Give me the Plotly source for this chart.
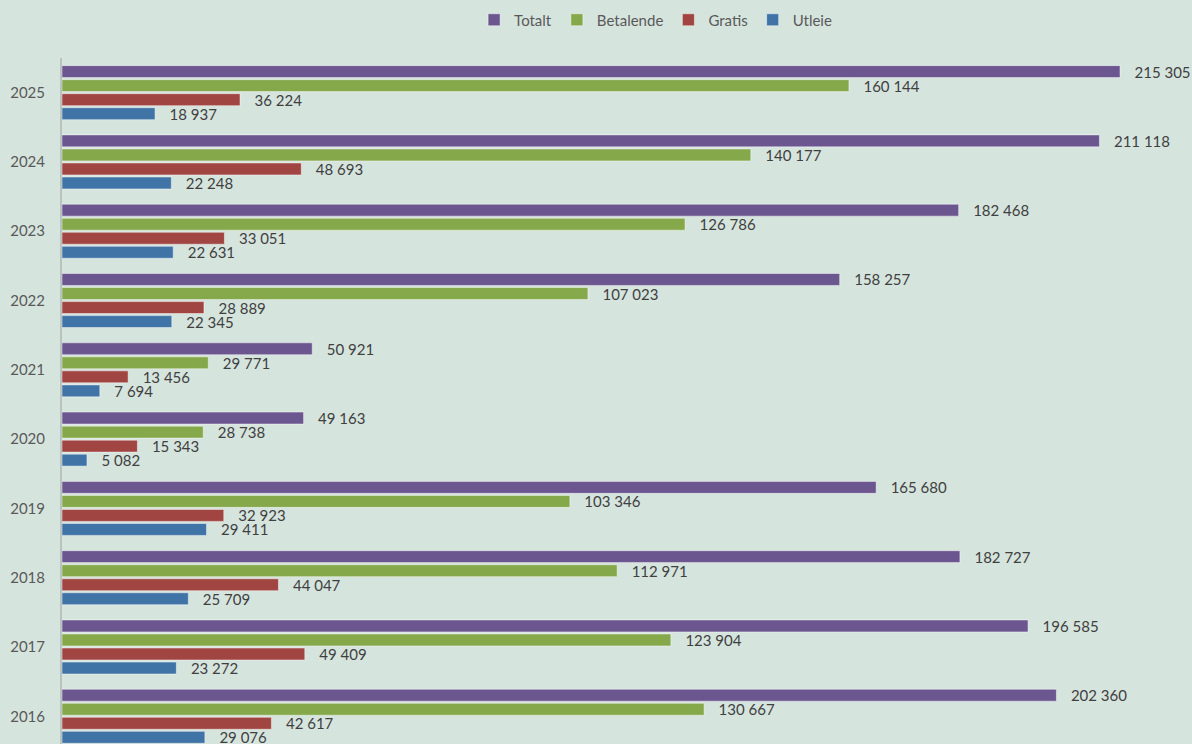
import plotly.graph_objects as go

years = ["2016", "2017", "2018", "2019", "2020", "2021", "2022", "2023", "2024", "2025"]
totalt = [202360, 196585, 182727, 165680, 49163, 50921, 158257, 182468, 211118, 215305]
betalende = [130667, 123904, 112971, 103346, 28738, 29771, 107023, 126786, 140177, 160144]
gratis = [42617, 49409, 44047, 32923, 15343, 13456, 28889, 33051, 48693, 36224]
utleie = [29076, 23272, 25709, 29411, 5082, 7694, 22345, 22631, 22248, 18937]

series = [
    ("Utleie", utleie, "#4074A6"),
    ("Gratis", gratis, "#A04542"),
    ("Betalende", betalende, "#84A84A"),
    ("Totalt", totalt, "#6B5690"),
]

BG = "#D6E4DE"


def fmt(v):
    return "\u00a0\u00a0\u00a0" + f"{v:,}".replace(",", " ")


fig = go.Figure()
for name, vals, color in series:
    fig.add_trace(go.Bar(
        y=years, x=vals, name=name, orientation="h",
        marker=dict(color=color, line=dict(color="rgba(255,255,255,0.45)", width=1)),
        text=[fmt(v) for v in vals], textposition="outside",
        textfont=dict(family="Lato", size=15, color="#404040"),
        cliponaxis=False, constraintext="none",
    ))

fig.update_layout(
    width=1192, height=744,
    paper_bgcolor=BG, plot_bgcolor=BG,
    barmode="group", bargap=0.19, bargroupgap=0.15,
    margin=dict(l=62, r=0, t=58, b=0),
    font=dict(family="Lato", size=15, color="#595959"),
    showlegend=True,
    legend=dict(
        orientation="h", traceorder="reversed",
        xref="container", yref="container",
        x=0.55, y=1 - 20 / 744, xanchor="center", yanchor="middle",
        font=dict(family="Lato", size=15, color="#595959"),
        bgcolor="rgba(0,0,0,0)",
    ),
    xaxis=dict(range=[0, 229955], visible=False, showgrid=False, zeroline=False),
    yaxis=dict(
        type="category", categoryorder="array", categoryarray=years,
        range=[-0.4, 9.5], showgrid=False, zeroline=False,
        showline=True, linecolor="#B8C2BE", linewidth=2,
        ticks="", ticklabelstandoff=12,
        tickfont=dict(family="Lato", size=15, color="#595959"),
    ),
)

fig.write_html(
    "out.html",
    config={"displayModeBar": False},
    post_script="document.body.style.margin='0';document.body.style.overflow='hidden';"
                "document.body.style.background='" + BG + "';",
)
